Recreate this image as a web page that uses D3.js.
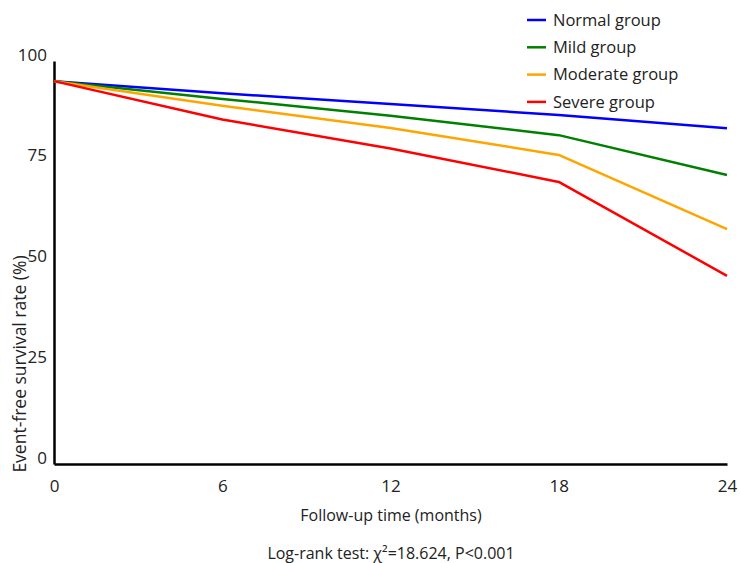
<!DOCTYPE html>
<html>
<head>
<meta charset="utf-8">
<style>
  body { margin: 0; background: #fff; }
  text { font-family: "Open Sans", "Noto Sans", sans-serif; fill: #222; }
</style>
</head>
<body>
<script src="https://cdn.jsdelivr.net/npm/d3@7"></script>
<script>
// follow-up months
var months = [0, 6, 12, 18, 24];

// survival rate (%) per group
var normalGroup   = [95, 92.0, 89.3, 86.6, 83.3];
var mildGroup     = [95, 90.6, 86.4, 81.6, 71.7];
var moderateGroup = [95, 88.9, 83.4, 76.7, 58.3];
var severeGroup   = [95, 85.5, 78.3, 70.0, 46.7];

var groupNames = ["Normal group", "Mild group", "Moderate group", "Severe group"];
var groupColors = ["#0000ff", "#008000", "#ffa500", "#ff0000"];
var yTicks = [0, 25, 50, 75, 100];

var series = [normalGroup, mildGroup, moderateGroup, severeGroup].map(function(vals, i) {
    return {
        name: groupNames[i],
        color: groupColors[i],
        values: vals.map(function(v, j) { return {month: months[j], rate: v}; })
    };
});

var width = 740, height = 563;

var svg = d3.select("body").append("svg")
    .attr("width", width)
    .attr("height", height);

var x = d3.scaleLinear().domain([0, 24]).range([54, 727]);
var y = d3.scaleLinear().domain([0, 100]).range([464, 61]);

// x axis
var xAxis = d3.axisBottom(x).tickValues(months).tickSize(0).tickPadding(16);
var gx = svg.append("g")
    .attr("transform", "translate(0," + y(0) + ")")
    .call(xAxis);
gx.select(".domain").attr("stroke", "#000").attr("stroke-width", 2.5);
gx.selectAll(".tick text").style("font-size", "17px").attr("fill", "#222");

// y axis
var yAxis = d3.axisLeft(y).tickValues(yTicks).tickSize(0).tickPadding(7);
var gy = svg.append("g")
    .attr("transform", "translate(" + x(0) + ",0)")
    .call(yAxis);
gy.select(".domain").attr("stroke", "#000").attr("stroke-width", 2.5);
gy.selectAll(".tick text").style("font-size", "17px").attr("fill", "#222").attr("dy", "-0.05em");

// lines
var line = d3.line()
    .x(function(d) { return x(d.month); })
    .y(function(d) { return y(d.rate); });

svg.selectAll(".series")
    .data(series)
    .enter().append("path")
    .attr("class", "series")
    .attr("fill", "none")
    .attr("stroke", function(d) { return d.color; })
    .attr("stroke-width", 2.5)
    .attr("stroke-linejoin", "round")
    .attr("d", function(d) { return line(d.values); });

// legend
var legend = svg.selectAll(".legend")
    .data(series)
    .enter().append("g")
    .attr("class", "legend")
    .attr("transform", function(d, i) { return "translate(527," + (20 + i * 27.3) + ")"; });

legend.append("line")
    .attr("x1", 0).attr("x2", 19)
    .attr("stroke", function(d) { return d.color; })
    .attr("stroke-width", 2.5);

legend.append("text")
    .attr("x", 26)
    .attr("dy", "0.35em")
    .style("font-size", "16.5px")
    .text(function(d) { return d.name; });

// axis titles
svg.append("text")
    .attr("x", 391)
    .attr("y", 521)
    .attr("text-anchor", "middle")
    .style("font-size", "16px")
    .text("Follow-up time (months)");

svg.append("text")
    .attr("transform", "translate(26,364) rotate(-90)")
    .attr("text-anchor", "middle")
    .style("font-size", "17.5px")
    .text("Event-free survival rate (%)");

svg.append("text")
    .attr("x", 391)
    .attr("y", 559)
    .attr("text-anchor", "middle")
    .style("font-size", "16px")
    .text("Log-rank test: χ²=18.624, P<0.001");
</script>
</body>
</html>
